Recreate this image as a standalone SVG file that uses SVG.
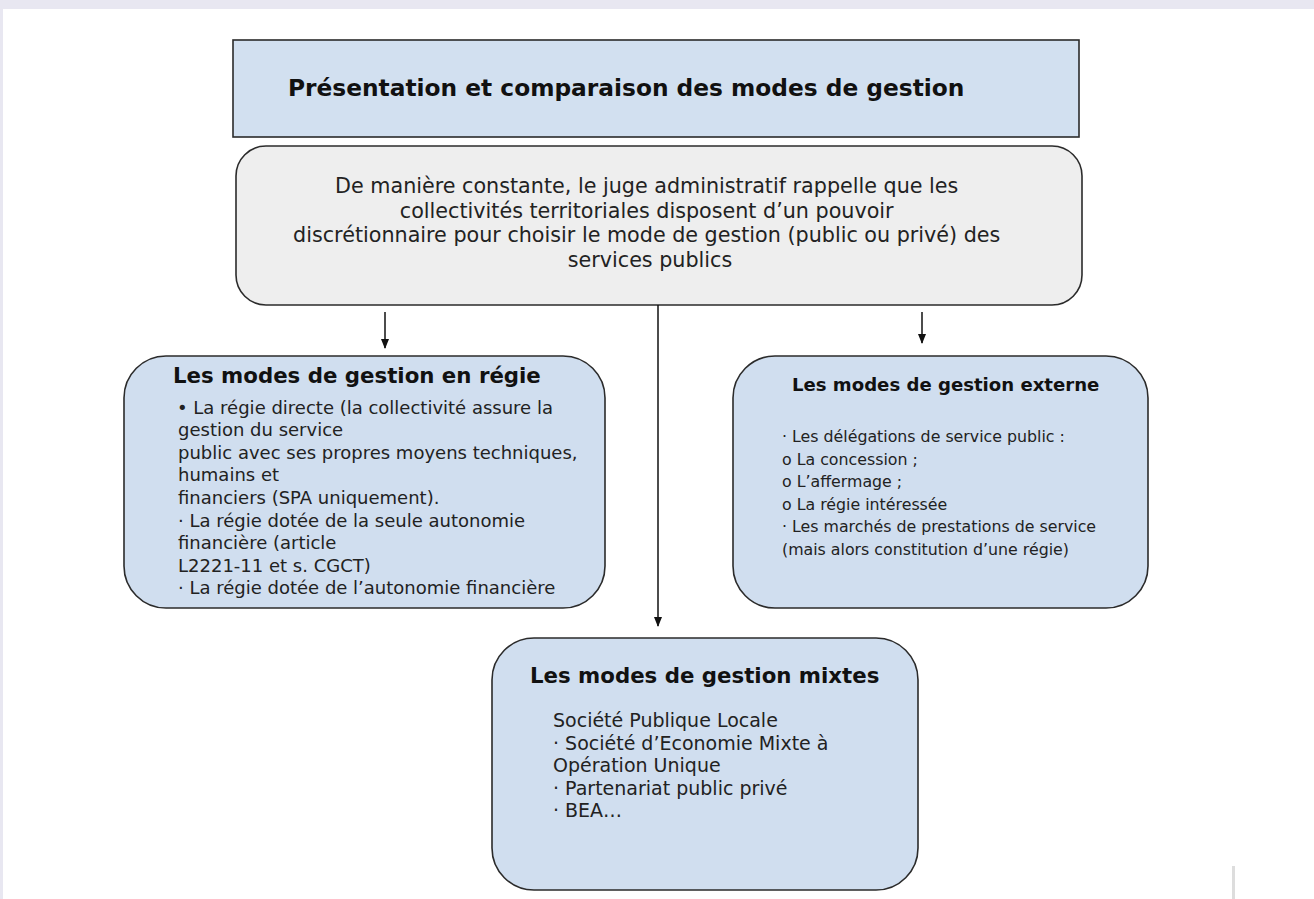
<svg xmlns="http://www.w3.org/2000/svg" width="1314" height="899" viewBox="0 0 1314 899">
<defs>
<marker id="ah" markerWidth="10" markerHeight="10" refX="9" refY="4" orient="auto" markerUnits="userSpaceOnUse">
<path d="M0,0 L10,4 L0,8 Z" fill="#111"/>
</marker>
<style>
.box{fill:#d0deef;stroke:#2b2b2b;stroke-width:1.6}
.gray{fill:#eeeeee;stroke:#2b2b2b;stroke-width:1.6}
.h{font-family:"DejaVu Sans",sans-serif;font-weight:bold;fill:#111}
.t{font-family:"DejaVu Sans",sans-serif;fill:#222}
.c{stroke:#111;stroke-width:1.5;fill:none;marker-end:url(#ah)}
</style>
</defs>
<rect x="0" y="0" width="1314" height="899" fill="#ffffff"/>
<rect x="0" y="0" width="1314" height="9" fill="#e8e7f1"/>
<rect x="0" y="0" width="3" height="899" fill="#e8e7f1"/>
<rect x="1232" y="866" width="3" height="33" fill="#dddddd"/>

<g id="title">
<rect x="233" y="40" width="846" height="97" fill="#d2e0f0" stroke="#2b2b2b" stroke-width="1.6"/>
<text class="h" x="288" y="96" font-size="23.3">Présentation et comparaison des modes de gestion</text>
</g>

<g id="intro">
<rect class="gray" x="236" y="146" width="846" height="159" rx="30"/>
<text class="t" font-size="20.7" text-anchor="middle">
<tspan x="650" y="193">De manière constante, le juge administratif rappelle que les</tspan>
<tspan x="650" y="217.5">collectivités territoriales disposent d’un pouvoir</tspan>
<tspan x="650" y="242">discrétionnaire pour choisir le mode de gestion (public ou privé) des</tspan>
<tspan x="650" y="266.5">services publics</tspan>
</text>
</g>

<g id="connectors">
<line class="c" x1="385" y1="312" x2="385" y2="348"/>
<line class="c" x1="922" y1="312" x2="922" y2="343"/>
<line class="c" x1="658" y1="305" x2="658" y2="626"/>
</g>

<g id="regie">
<rect class="box" x="124" y="356" width="481" height="252" rx="42"/>
<text class="h" x="173" y="383" font-size="21.3">Les modes de gestion en régie</text>
<text class="t" font-size="18">
<tspan x="177" y="414">• La régie directe (la collectivité assure la</tspan>
<tspan x="178" y="436">gestion du service</tspan>
<tspan x="178" y="458.5">public avec ses propres moyens techniques,</tspan>
<tspan x="178" y="481">humains et</tspan>
<tspan x="178" y="503.5">financiers (SPA uniquement).</tspan>
<tspan x="178" y="526.5">· La régie dotée de la seule autonomie</tspan>
<tspan x="178" y="549">financière (article</tspan>
<tspan x="178" y="571.5">L2221-11 et s. CGCT)</tspan>
<tspan x="178" y="594">· La régie dotée de l’autonomie financière</tspan>
</text>
</g>

<g id="externe">
<rect class="box" x="733" y="356" width="415" height="252" rx="42"/>
<text class="h" x="792" y="391" font-size="18.1">Les modes de gestion externe</text>
<text class="t" font-size="15.8">
<tspan x="782" y="442">· Les délégations de service public :</tspan>
<tspan x="782" y="464.5">o La concession ;</tspan>
<tspan x="782" y="487">o L’affermage ;</tspan>
<tspan x="782" y="509.5">o La régie intéressée</tspan>
<tspan x="782" y="532">· Les marchés de prestations de service</tspan>
<tspan x="782" y="554.5">(mais alors constitution d’une régie)</tspan>
</text>
</g>

<g id="mixtes">
<rect class="box" x="492" y="638" width="426" height="252" rx="42"/>
<text class="h" x="530" y="683" font-size="21.3">Les modes de gestion mixtes</text>
<text class="t" font-size="19">
<tspan x="553" y="727">Société Publique Locale</tspan>
<tspan x="553" y="749.5">· Société d’Economie Mixte à</tspan>
<tspan x="553" y="772">Opération Unique</tspan>
<tspan x="553" y="794.5">· Partenariat public privé</tspan>
<tspan x="553" y="817">· BEA…</tspan>
</text>
</g>
</svg>
